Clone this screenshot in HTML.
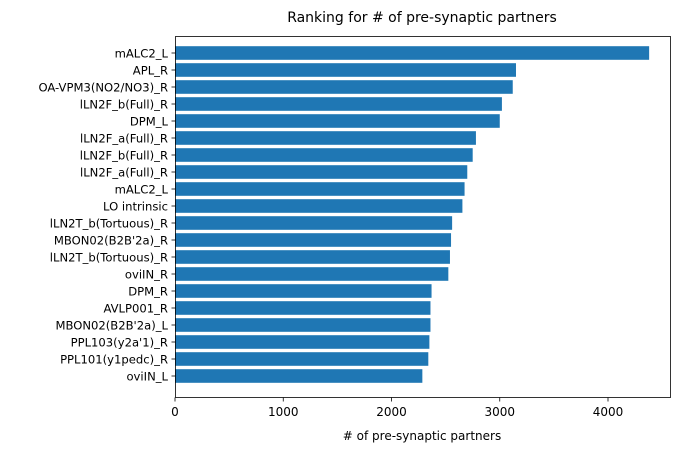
<!DOCTYPE html>
<html><head><meta charset="utf-8"><style>
body{margin:0;background:#fff;}
svg text{font-family:"DejaVu Sans","Liberation Sans",sans-serif;fill:#000;}
</style></head><body>
<svg width="680" height="453" xmlns="http://www.w3.org/2000/svg">
<rect width="680" height="453" fill="#fff"/>
<text x="422" y="22" text-anchor="middle" font-size="14">Ranking for # of pre-synaptic partners</text>
<g id="bars"></g>
<g id="yticks"></g>
<g id="xticks"></g>
<rect x="175.5" y="36.5" width="495" height="361" fill="none" stroke="#000" stroke-width="0.8"/>
<text x="422" y="440" text-anchor="middle" font-size="12"># of pre-synaptic partners</text>
</svg>
<script>
const categories=["mALC2_L","APL_R","OA-VPM3(NO2/NO3)_R","lLN2F_b(Full)_R","DPM_L","lLN2F_a(Full)_R","lLN2F_b(Full)_R","lLN2F_a(Full)_R","mALC2_L","LO intrinsic","lLN2T_b(Tortuous)_R","MBON02(B2B'2a)_R","lLN2T_b(Tortuous)_R","oviIN_R","DPM_R","AVLP001_R","MBON02(B2B'2a)_L","PPL103(y2a'1)_R","PPL101(y1pedc)_R","oviIN_L"];
const values=[4380,3150,3120,3020,3000,2780,2750,2700,2675,2655,2560,2550,2540,2525,2370,2360,2360,2350,2340,2285];
const xTicks=[0,1000,2000,3000,4000];
const NS="http://www.w3.org/2000/svg";
const x0=175,pxPer=108.25,yFirst=53,step=17,bh=13.6;
const xs=v=>x0+v*pxPer/1000;
const ys=i=>yFirst+i*step;
const gb=document.getElementById('bars'),gy=document.getElementById('yticks'),gx=document.getElementById('xticks');
function mk(t,a){const e=document.createElementNS(NS,t);for(const k in a)e.setAttribute(k,a[k]);return e;}
categories.forEach((c,i)=>{
  const r=mk('rect',{x:xs(0),y:ys(i)-bh/2,width:xs(values[i])-xs(0),height:bh,fill:'#1f77b4'});
  
  
  gb.appendChild(r);
  const l=mk('line',{x1:171.5,x2:175.5,y1:ys(i),y2:ys(i),stroke:'#000','stroke-width':0.8});
  gy.appendChild(l);
  const t=mk('text',{x:168,y:ys(i)+4.5,'text-anchor':'end','font-size':11.6});
  t.textContent=c;
  
  
  gy.appendChild(t);
});
xTicks.forEach(v=>{
  const l=mk('line',{x1:xs(v),x2:xs(v),y1:397.5,y2:401.5,stroke:'#000','stroke-width':0.8});
  gx.appendChild(l);
  const t=mk('text',{x:xs(v),y:416,'text-anchor':'middle','font-size':12});
  t.textContent=v;
  
  
  gx.appendChild(t);
});
</script>
</body></html>
